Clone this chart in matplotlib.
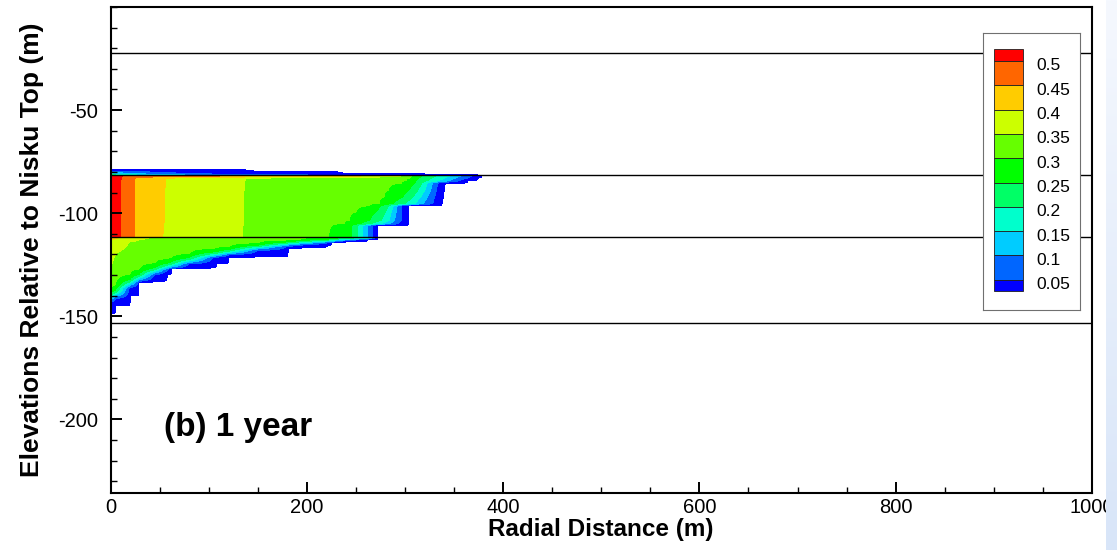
import numpy as np
import matplotlib.pyplot as plt
from matplotlib.patches import Rectangle
from matplotlib.colors import LinearSegmentedColormap
from matplotlib.ticker import MultipleLocator

plt.rcParams['font.family'] = ['Liberation Sans', 'DejaVu Sans']
plt.rcParams['axes.unicode_minus'] = False

W, H = 1117, 550
nan = np.nan

# saturation contour levels and flood colours (lowest band = trace)
levels = [0.05, 0.1, 0.15, 0.2, 0.25, 0.3, 0.35, 0.4, 0.45, 0.5]
colors = ['#0000ff', '#0066ff', '#00ccff', '#00ffcc', '#00ff66', '#00ff00',
          '#66ff00', '#ccff00', '#ffcc00', '#ff6600', '#ff0000']

# formation boundaries (m, relative to Nisku top)
horizons = [-22.3, -81.5, -111.6, -153.3]

# caprock leak + upper zone, row by row
# radius (m) where saturation falls to 0.5, 0.45, ..., 0.05 and plume edge
upper_z = [-78.8, -79.6, -80.6, -81.45, -81.6, -83.0, -84.3, -85.4, -88.8,
           -92.1, -95.3, -96.3, -99.4, -103.4, -105.0, -105.9, -111.4]
upper_s0 = [0.0, 0.04, 0.12, 0.2, 0.56, 0.56, 0.56, 0.56, 0.56,
            0.56, 0.56, 0.56, 0.56, 0.56, 0.56, 0.56, 0.56]
upper_r = [
    [nan, nan, nan, nan, nan, nan, nan, nan, nan, nan, 0],
    [nan, nan, nan, nan, nan, nan, nan, nan, nan, nan, 150],
    [nan, nan, nan, nan, nan, nan, nan, nan, 20, 70, 240],
    [nan, nan, nan, nan, nan, nan, nan, 15, 50, 120, 330],
    [12, 230, 285, 300, 307, 318, 333, 347, 358, 369, 378],
    [11, 24, 56, 138, 304, 314, 327, 340, 351, 363, 374],
    [10.5, 24, 56, 137, 301, 311, 322, 334, 344, 354, 364],
    [10.5, 24, 56, 137, 296, 310, 317, 322.5, 328, 333, 341],
    [10.5, 24, 55, 136, 283, 304, 313, 320, 326, 332, 340],
    [10.5, 24, 55, 136, 279, 298, 308, 316, 323, 330, 339],
    [10.5, 24, 55, 136, 274, 288, 300, 310, 318, 328, 338],
    [10.5, 24, 55, 136, 264, 276, 283, 288, 292, 297, 304],
    [10.5, 24, 55, 136, 250, 270, 280, 286, 291, 296, 304],
    [10.5, 24, 55, 136, 243, 264, 276, 284, 289, 296, 304],
    [10.5, 24, 54, 135, 238, 255, 266, 276, 284, 293, 304],
    [10.5, 24, 54, 135, 226, 246, 251.5, 256.5, 261.6, 267, 271.7],
    [10.5, 24, 53, 134, 222, 246, 251.5, 256.5, 261.6, 267, 271.7],
]

# lower zone, column by column
# depth (m) where saturation falls to 0.4, 0.35, ..., 0.05 and plume bottom
lower_r = [0, 4, 5, 19, 20, 28, 29, 45, 58, 62, 80, 104, 108, 121, 150,
           178, 181, 195, 222, 225, 240, 262, 272]
lower_s0 = [0.43, 0.42, 0.41, 0.38, 0.375, 0.365, 0.36, 0.345, 0.34, 0.338,
            0.335, 0.33, 0.33, 0.33, 0.32, 0.315, 0.31, 0.305, 0.29, 0.28,
            0.24, 0.16, 0.0]
lower_d = [
    [-112.8, -126.0, -136.0, -138.5, -139.8, -140.8, -141.8, -143.0, -148.7],
    [-112.4, -121.0, -135.0, -137.6, -138.8, -139.8, -140.8, -142.0, -148.5],
    [-112.1, -119.5, -134.6, -137.2, -138.4, -139.4, -140.3, -141.4, -144.7],
    [nan, -114.0, -129.5, -132.2, -133.4, -134.4, -135.3, -136.3, -144.7],
    [nan, -113.8, -129.2, -131.9, -133.1, -134.0, -134.9, -135.9, -139.8],
    [nan, -113.0, -127.2, -129.8, -130.9, -131.8, -132.6, -133.5, -139.8],
    [nan, -112.9, -127.0, -129.5, -130.6, -131.5, -132.3, -133.0, -133.4],
    [nan, nan, -124.0, -126.4, -127.4, -128.2, -129.0, -129.8, -133.2],
    [nan, nan, -122.0, -124.2, -125.2, -126.0, -126.7, -127.4, -130.0],
    [nan, nan, -121.5, -123.6, -124.6, -125.4, -126.1, -126.7, -127.0],
    [nan, nan, -119.5, -121.5, -122.4, -123.1, -123.8, -124.5, -126.9],
    [nan, nan, -117.0, -118.8, -119.6, -120.3, -120.9, -121.6, -126.6],
    [nan, nan, -116.8, -118.6, -119.4, -120.1, -120.7, -121.3, -124.5],
    [nan, nan, -116.0, -117.6, -118.3, -118.9, -119.5, -120.1, -121.5],
    [nan, nan, -114.3, -115.5, -116.1, -116.7, -117.3, -118.0, -121.2],
    [nan, nan, -113.0, -114.0, -114.6, -115.1, -115.6, -116.3, -121.0],
    [nan, nan, -112.9, -113.8, -114.4, -114.9, -115.4, -116.0, -117.3],
    [nan, nan, -112.5, -113.3, -113.8, -114.3, -114.8, -115.4, -116.6],
    [nan, nan, nan, -112.5, -113.0, -113.4, -113.8, -114.3, -115.5],
    [nan, nan, nan, -112.3, -112.8, -113.2, -113.6, -114.0, -114.3],
    [nan, nan, nan, nan, -112.3, -112.6, -112.9, -113.2, -113.8],
    [nan, nan, nan, nan, nan, -112.1, -112.3, -112.5, -112.8],
    [nan, nan, nan, nan, nan, nan, nan, nan, nan],
]
lower_top = -111.8


def row_profile(r, s0, radii, vals):
    radii = np.asarray(radii, float)
    vals = np.asarray(vals, float)
    keep = ~np.isnan(radii)
    xp = np.concatenate([[0.0], radii[keep]])
    fp = np.concatenate([[s0], vals[keep]])
    return np.interp(r, xp, fp, right=0.0)


def col_profile(z, s0, depths, vals):
    depths = np.asarray(depths, float)
    vals = np.asarray(vals, float)
    keep = ~np.isnan(depths)
    zp = np.concatenate([[lower_top], depths[keep]])[::-1]
    sp = np.concatenate([[s0], vals[keep]])[::-1]
    return np.interp(z, zp, sp, left=0.0, right=s0)


# upper field on a fine radial grid
r_fine = np.linspace(0, 1000, 4001)
upper_vals = levels[::-1] + [0.0]
S_up = np.array([row_profile(r_fine, s, rr, upper_vals)
                 for s, rr in zip(upper_s0, upper_r)])

# lower field on a fine vertical grid
z_fine = np.linspace(lower_top, -150, 800)
lower_vals = [0.4, 0.35, 0.3, 0.25, 0.2, 0.15, 0.1, 0.05, 0.0]
S_low = np.array([col_profile(z_fine, s, dd, lower_vals)
                  for s, dd in zip(lower_s0, lower_d)]).T
r_low = np.array(lower_r + [1000], float)
S_low = np.hstack([S_low, np.zeros((len(z_fine), 1))])

fig = plt.figure(figsize=(W / 100, H / 100), dpi=100)
ax = fig.add_axes([110.5 / W, 1 - 492.7 / H, (1092 - 110.5) / W, (492.7 - 7) / H])

bounds = [0.001] + levels + [1.0]
ax.contourf(r_fine, upper_z, S_up, levels=bounds, colors=colors)
ax.contourf(r_low, z_fine, S_low, levels=bounds, colors=colors)

for h in horizons:
    ax.axhline(h, color='black', lw=1.0, zorder=3)

ax.set_xlim(0, 1000)
ax.set_ylim(-235.5, 0)
ax.set_xticks([0, 200, 400, 600, 800, 1000])
ax.set_yticks([-200, -150, -100, -50])
ax.xaxis.set_minor_locator(MultipleLocator(50))
ax.yaxis.set_minor_locator(MultipleLocator(10))
ax.tick_params(which='both', direction='in', top=False, right=False,
               labelsize=14.5)
ax.tick_params(which='major', length=8, width=1.4)
ax.tick_params(which='minor', length=4.5, width=1.0)
ax.tick_params(axis='y', pad=9)
ax.tick_params(axis='x', pad=4)
for s in ax.spines.values():
    s.set_linewidth(1.5)

ax.set_xlabel('Radial Distance (m)', fontsize=17.5, fontweight='bold')
ax.set_ylabel('Elevations Relative to Nisku Top (m)', fontsize=19,
              fontweight='bold')
ax.xaxis.set_label_coords(0.5, -0.052)
ax.yaxis.set_label_coords(-0.068, 0.5)

ax.text(55, -207.8, '(b) 1 year', fontsize=24, fontweight='bold',
        ha='left', va='baseline')

# contour legend box
leg = fig.add_axes([983 / W, 1 - 310 / H, 97 / W, 277 / H])
leg.set_xlim(0, 97)
leg.set_ylim(277, 0)
leg.set_xticks([])
leg.set_yticks([])
for s in leg.spines.values():
    s.set_color('#707070')
    s.set_linewidth(0.8)

heights = [11.7] + [24.3] * (len(colors) - 2) + [11.7]
y = 16.3
for c, hgt in zip(colors[::-1], heights):
    leg.add_patch(Rectangle((11, y), 29, hgt, facecolor=c,
                            edgecolor='#202020', lw=0.6))
    y += hgt
y = 16.3 + heights[0]
for v in levels[::-1]:
    leg.text(53, y + 5, f'{v:g}', fontsize=12.5, va='center', ha='left')
    y += 24.3

# pale blue band along the right edge
strip = fig.add_axes([1106 / W, 0, 11 / W, 1])
grad = np.linspace(0, 1, 256)[:, None]
strip.imshow(grad, aspect='auto', origin='upper',
             cmap=LinearSegmentedColormap.from_list('edge', ['#f5f8fe', '#d8e5f8']))
strip.axis('off')

fig.savefig('out.png', dpi=100)
